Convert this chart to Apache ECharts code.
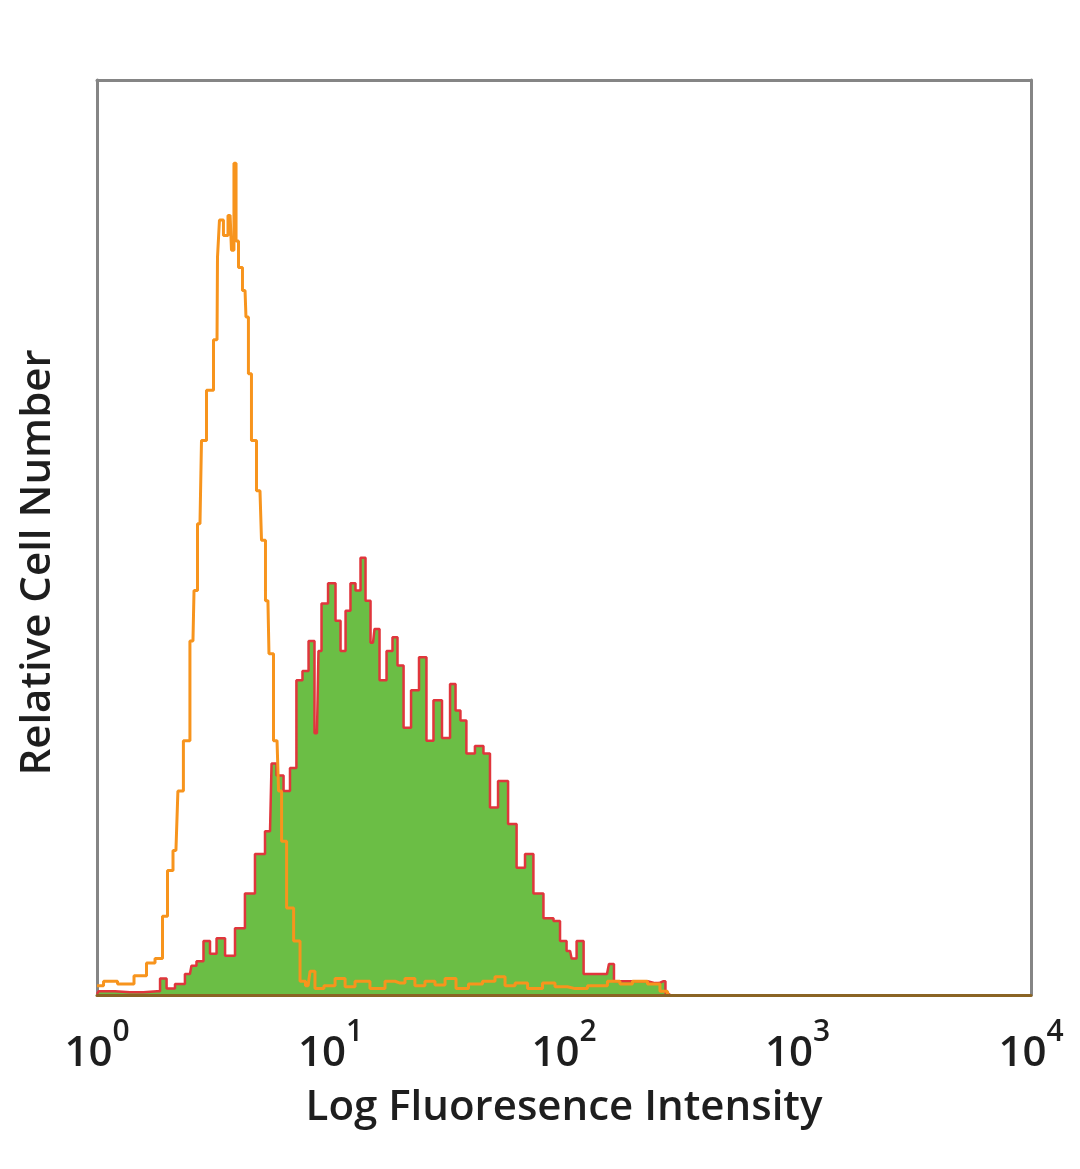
<!DOCTYPE html>
<html>
<head>
<meta charset="utf-8">
<script src="https://cdn.jsdelivr.net/npm/echarts@6/dist/echarts.min.js"></script>
<style>
html,body{margin:0;padding:0;background:#fff;}
#chart{width:1080px;height:1169px;}
</style>
</head>
<body>
<div id="chart"></div>
<script>
// x positions in decades (log10 of fluorescence intensity)
const tickExponents = ['0', '1', '2', '3', '4'];

const greenLogX = [0.000,0.013,0.141,0.257,0.283,0.313,0.355,0.398,0.411,0.441,
  0.471,0.497,0.527,0.570,0.612,0.655,0.698,0.741,0.754,0.784,
  0.814,0.839,0.869,0.891,0.921,0.942,0.955,0.968,1.011,1.032,
  1.054,1.075,1.096,1.118,1.139,1.161,1.182,1.195,1.225,1.255,
  1.276,1.298,1.328,1.362,1.396,1.426,1.456,1.499,1.525,1.546,
  1.567,1.597,1.640,1.670,1.696,1.739,1.782,1.812,1.854,1.884,
  1.940,1.970,1.996,2.026,2.039,2.069,2.099,2.154,2.184,2.201,
  2.227,2.325,2.390,2.424,2.445,2.454];
const greenCount = [0.1,0.4,0.3,0.4,1.8,0.7,1.2,2.3,3.2,3.7,
  5.9,4.5,6.2,4.3,7.3,11.1,15.4,17.9,25.3,24.0,
  22.3,24.8,34.4,35.4,38.7,28.6,37.6,42.8,45.0,40.9,
  37.6,42.0,45.0,44.2,47.8,43.1,38.5,40.0,34.4,37.6,
  39.1,36.0,29.2,33.3,36.9,27.8,32.2,28.1,34.0,31.1,
  30.0,26.4,27.2,26.4,20.5,23.4,18.7,13.9,15.4,11.1,
  8.4,8.1,5.9,4.8,4.0,5.9,2.3,2.3,2.3,3.4,
  1.5,1.5,1.3,1.5,0.2,0];

const orangeLogX = [0.000,0.056,0.120,0.197,0.227,0.270,0.291,0.313,0.338,0.355,
  0.385,0.411,0.420,0.441,0.454,0.484,0.514,0.518,0.531,0.552,
  0.570,0.582,0.591,0.600,0.612,0.634,0.642,0.655,0.668,0.698,
  0.711,0.732,0.741,0.771,0.784,0.797,0.827,0.857,0.882,0.904,
  0.921,0.946,0.998,1.041,1.084,1.126,1.212,1.255,1.298,1.340,
  1.383,1.426,1.469,1.512,1.563,1.619,1.683,1.726,1.769,1.812,
  1.876,1.940,1.983,2.047,2.154,2.218,2.261,2.325,2.390,2.432,2.454];
const orangeCount = [1.0,1.5,1.2,2.1,3.5,4.0,8.6,13.6,15.8,22.3,
  27.8,38.7,44.2,51.5,60.6,66.1,71.6,80.6,84.7,83.0,
  85.2,81.4,90.9,82.4,79.5,77.0,74.1,67.9,60.6,55.1,
  49.7,43.1,37.3,27.8,22.3,16.8,9.5,5.9,1.5,1.0,
  2.6,0.7,1.0,1.8,0.9,1.5,0.7,1.5,1.3,1.8,
  1.0,1.5,1.1,1.8,0.7,1.2,1.5,2.0,1.0,1.3,
  0.7,1.3,0.9,0.7,1.0,1.5,1.2,1.5,1.2,0.4,0];

const FONT = '"Open Sans", "Noto Sans", sans-serif';
const TEXT = '#1e1e1e';
const chart = echarts.init(document.getElementById('chart'));
const greenData = greenLogX.map((x, i) => [x, greenCount[i]]);
const orangeData = orangeLogX.map((x, i) => [x, orangeCount[i]]);

const frameGray = '#858585';
const hiddenAxisParts = { axisTick: { show: false }, axisLabel: { show: false }, splitLine: { show: false } };
chart.setOption({
  backgroundColor: '#ffffff',
  animation: false,
  grid: { left: 97, right: 49, top: 80, bottom: 174 },
  xAxis: [{
    type: 'value', min: 0, max: 4, interval: 1,
    name: 'Log Fluoresence Intensity',
    nameLocation: 'middle', nameGap: 92,
    nameTextStyle: { fontFamily: FONT, fontSize: 42, fontWeight: 600, color: TEXT },
    axisLine: { show: true, onZero: false, lineStyle: { color: '#8a6424', width: 3 } },
    axisTick: { show: false },
    splitLine: { show: false },
    z: 5,
    axisLabel: {
      margin: 22,
      formatter: function (v) { return '{b|10}{s|' + tickExponents[Math.round(v)] + '}'; },
      rich: {
        b: { fontFamily: FONT, fontSize: 42, fontWeight: 600, color: TEXT },
        s: { fontFamily: FONT, fontSize: 30, fontWeight: 600, color: TEXT, padding: [0, 0, 44, 0] }
      }
    }
  }, Object.assign({
    type: 'value', position: 'top', min: 0, max: 4,
    axisLine: { show: true, onZero: false, lineStyle: { color: frameGray, width: 3 } }
  }, hiddenAxisParts)],
  yAxis: [Object.assign({
    type: 'value', min: 0, max: 100,
    name: 'Relative Cell Number',
    nameLocation: 'middle', nameGap: 38,
    nameTextStyle: { fontFamily: FONT, fontSize: 42, fontWeight: 600, color: TEXT, padding: [0, 50, 0, 0] },
    axisLine: { show: true, onZero: false, lineStyle: { color: frameGray, width: 3 } }
  }, hiddenAxisParts), Object.assign({
    type: 'value', position: 'right', min: 0, max: 100,
    axisLine: { show: true, onZero: false, lineStyle: { color: frameGray, width: 3 } }
  }, hiddenAxisParts)],
  series: [{
    type: 'line', data: greenData, step: 'middle', symbol: 'none',
    lineStyle: { color: '#e0363c', width: 2.5 },
    areaStyle: { color: '#6bbe45', opacity: 1 },
    z: 2
  }, {
    type: 'line', data: orangeData, step: 'middle', symbol: 'none',
    lineStyle: { color: '#f7941d', width: 3 },
    z: 3
  }]
});
</script>
</body>
</html>
